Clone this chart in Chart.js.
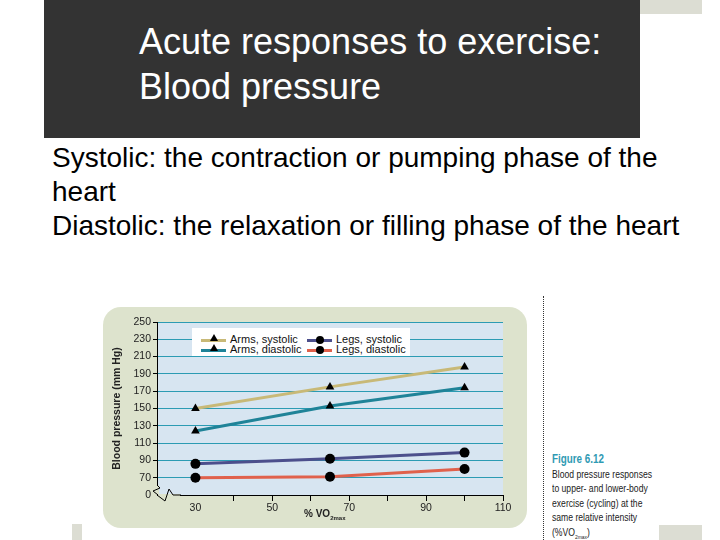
<!DOCTYPE html>
<html lang="en">
<head>
<meta charset="UTF-8">
<title>Acute responses to exercise: Blood pressure</title>
<script src="https://cdn.jsdelivr.net/npm/chart.js"></script>
<style>
    body {
        margin: 0;
        width: 720px;
        height: 540px;
        position: relative;
        overflow: hidden;
        background: #fff;
        font-family: 'Liberation Sans', Arial, sans-serif;
    }
    .title-box {
        position: absolute;
        left: 44px; top: 0;
        width: 596px; height: 138px;
        background: #333333;
    }
    .title-box h1 {
        position: absolute;
        left: 95px; top: 19px;
        margin: 0;
        color: #fff;
        font-weight: normal;
        font-size: 36px;
        line-height: 45px;
        white-space: nowrap;
    }
    .corner { position: absolute; background: #dcddd3; }
    .body-text {
        position: absolute;
        left: 52px; top: 141px;
        margin: 0;
        font-size: 28px;
        line-height: 34px;
        color: #000;
        white-space: nowrap;
    }
    .panel {
        position: absolute;
        left: 103px; top: 307px;
        width: 424px; height: 221px;
        background: #dde3cd;
        border-radius: 18px;
    }
    .panel canvas { position: absolute; left: 0; top: 0; }
    .legend {
        position: absolute;
        left: 89px; top: 21px;
        width: 218px; height: 28px;
        background: #fff;
        font-size: 11px;
        color: #111;
    }
    .legend .item { position: absolute; height: 12px; line-height: 12px; white-space: nowrap; }
    .legend .swatch { display: inline-block; width: 25px; height: 3px; vertical-align: middle; position: relative; margin-right: 4px; }
    .legend .tri { position: absolute; left: 9px; top: -5px; width: 0; height: 0; border-left: 4px solid transparent; border-right: 4px solid transparent; border-bottom: 7px solid #000; }
    .legend .dot { position: absolute; left: 9px; top: -3px; width: 8px; height: 8px; border-radius: 50%; background: #000; }
    .xtitle {
        position: absolute;
        left: 201px; top: 201px;
        font-size: 10px; font-weight: bold; color: #222;
    }
    .xtitle sub { font-size: 6px; }
    .dots {
        position: absolute;
        left: 543px; top: 296px;
        height: 244px;
        border-left: 1px dotted #333;
    }
    .caption {
        position: absolute;
        left: 552px; top: 452px;
        font-size: 10.5px;
        line-height: 14.6px;
        color: #222;
        white-space: nowrap;
        transform: scaleX(0.82);
        transform-origin: left top;
    }
    .caption b { color: #2f9ab3; font-size: 12px; }
    .caption sub { font-size: 6px; }
</style>
</head>
<body>
<div class="title-box"><h1>Acute responses to exercise:<br>Blood pressure</h1></div>
<div class="corner" style="left:640px;top:0;width:62px;height:14px;"></div>
<div class="corner" style="left:659px;top:525px;width:43px;height:15px;"></div>
<div class="corner" style="left:72px;top:524px;width:10px;height:16px;"></div>
<p class="body-text">Systolic: the contraction or pumping phase of the<br>heart<br>Diastolic: the relaxation or filling phase of the heart</p>

<div class="panel">
    <canvas id="bp" width="424" height="221"></canvas>
    <div class="legend" id="legend"></div>
    <div class="xtitle">% VO<sub>2max</sub></div>
</div>
<div class="dots"></div>
<div class="caption"><b>Figure 6.12</b><br>Blood pressure responses<br>to upper- and lower-body<br>exercise (cycling) at the<br>same relative intensity<br>(%VO<sub>2max</sub>)</div>

<script>
// % VO2max at which pressures were measured
const intensity = [30, 65, 100];

// blood pressure, mm Hg
const armsSystolic = [150, 175, 198];
const armsDiastolic = [124, 153, 174];
const legsSystolic = [86, 92, 99];
const legsDiastolic = [70, 71, 80];

const seriesNames = ['Arms, systolic', 'Arms, diastolic', 'Legs, systolic', 'Legs, diastolic'];
const seriesColors = ['#c8b977', '#1f8398', '#4c4f8c', '#e0614c'];
const seriesMarkers = ['triangle', 'triangle', 'circle', 'circle'];

const yMin = 50, yMax = 250;   // 50 sits at the axis break and is labelled "0"
const xMin = 20, xMax = 110;
const xLabelled = [30, 50, 70, 90, 110];

function pts(values) {
    return intensity.map((x, i) => ({ x: x, y: values[i] }));
}

const allValues = [armsSystolic, armsDiastolic, legsSystolic, legsDiastolic];

const datasets = allValues.map((vals, i) => ({
    label: seriesNames[i],
    data: pts(vals),
    borderColor: seriesColors[i],
    backgroundColor: '#000',
    borderWidth: 3,
    pointStyle: seriesMarkers[i],
    pointRadius: 5,
    pointBorderColor: '#000',
    pointBackgroundColor: '#000',
    pointBorderWidth: 0,
    tension: 0
}));

// plot background and the axis break marks
const plotBackground = {
    id: 'plotBackground',
    beforeDraw(chart) {
        const a = chart.chartArea, c = chart.ctx;
        c.save();
        c.fillStyle = '#d7e5f1';
        c.fillRect(a.left, a.top, a.right - a.left, a.bottom - a.top);
        c.restore();
    },
    afterDraw(chart) {
        const a = chart.chartArea, c = chart.ctx;
        c.save();
        c.fillStyle = '#dde3cd';
        c.fillRect(a.left - 1, a.bottom - 10, 3, 9);
        c.fillRect(a.left + 1, a.bottom - 1, 22, 3);
        c.strokeStyle = '#000';
        c.lineWidth = 1;
        c.beginPath();
        c.moveTo(a.left, a.bottom - 10);
        c.lineTo(a.left + 3, a.bottom - 7);
        c.lineTo(a.left - 4, a.bottom - 4);
        c.lineTo(a.left + 1, a.bottom);
        c.moveTo(a.left, a.bottom);
        c.lineTo(a.left + 8, a.bottom + 6);
        c.lineTo(a.left + 12, a.bottom - 6);
        c.lineTo(a.left + 16, a.bottom);
        c.lineTo(a.left + 24, a.bottom);
        c.stroke();
        c.restore();
    }
};

new Chart(document.getElementById('bp'), {
    type: 'line',
    data: { datasets: datasets },
    options: {
        responsive: false,
        animation: false,
        layout: { padding: { top: 15, right: 24, bottom: 0, left: 8 } },
        plugins: { legend: { display: false }, tooltip: { enabled: false } },
        scales: {
            x: {
                type: 'linear',
                min: xMin, max: xMax,
                afterFit: s => { s.height = 33; },
                border: { color: '#000', width: 1 },
                grid: {
                    drawOnChartArea: false,
                    tickLength: 6,
                    tickColor: ctx => (ctx.tick && ctx.tick.value > 30 ? '#000' : 'rgba(0,0,0,0)')
                },
                ticks: {
                    stepSize: 10,
                    autoSkip: false,
                    maxRotation: 0,
                    padding: 1,
                    color: '#222',
                    font: { family: 'Liberation Sans', size: 10.5 },
                    callback: v => (xLabelled.includes(v) ? v : '')
                }
            },
            y: {
                min: yMin, max: yMax,
                afterFit: s => { s.width = 46; },
                border: { color: '#000', width: 1 },
                grid: {
                    color: ctx => (ctx.tick && ctx.tick.value > yMin ? '#2b9bb3' : 'rgba(0,0,0,0)'),
                    lineWidth: 1,
                    tickLength: 4,
                    tickColor: ctx => (ctx.tick && ctx.tick.value > yMin ? '#000' : 'rgba(0,0,0,0)')
                },
                ticks: {
                    stepSize: 20,
                    padding: 2,
                    color: '#222',
                    font: { family: 'Liberation Sans', size: 10.5 },
                    callback: v => (v === yMin ? '0' : v)
                },
                title: {
                    display: true,
                    text: 'Blood pressure (mm Hg)',
                    color: '#222',
                    padding: { top: 0, bottom: 1 },
                    font: { family: 'Liberation Sans', size: 10.5, weight: 'bold' }
                }
            }
        }
    },
    plugins: [plotBackground]
});

// legend box, two columns like the figure
const legend = document.getElementById('legend');
const legendPos = [[9, 5], [9, 15], [115, 5], [115, 15]];
seriesNames.forEach((name, i) => {
    const item = document.createElement('div');
    item.className = 'item';
    item.style.left = legendPos[i][0] + 'px';
    item.style.top = legendPos[i][1] + 'px';
    const mark = seriesMarkers[i] === 'triangle' ? '<span class="tri"></span>' : '<span class="dot"></span>';
    item.innerHTML = '<span class="swatch" style="background:' + seriesColors[i] + '">' + mark + '</span>' + name;
    legend.appendChild(item);
});
</script>
</body>
</html>
